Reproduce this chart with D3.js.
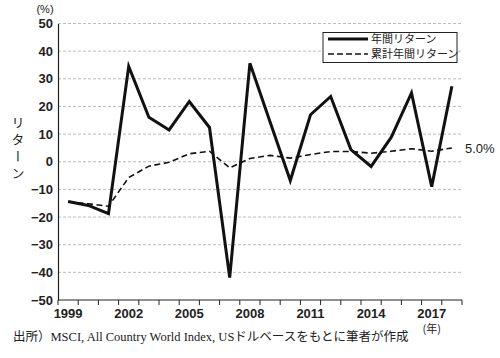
<!DOCTYPE html>
<html><head><meta charset="utf-8">
<script src="https://cdn.jsdelivr.net/npm/d3@7"></script>
<style>
html,body{margin:0;padding:0;background:#fff;}
svg{display:block;}
</style></head>
<body>
<svg id="chart" width="500" height="358"></svg>
<script>
const years = [1999,2000,2001,2002,2003,2004,2005,2006,2007,2008,2009,2010,2011,2012,2013,2014,2015,2016,2017,2018];
const annualReturn = [-14.4,-15.8,-18.8,34.5,16.1,11.5,21.8,12.4,-41.9,35.6,14.4,-6.8,17.0,23.6,4.4,-1.7,8.9,24.9,-9.0,27.3];
const cumulativeReturn = [-14.5,-15.2,-16.1,-5.7,-1.6,-0.2,2.9,3.8,-2.2,1.2,2.3,1.3,2.6,3.7,3.7,3.1,3.8,4.7,3.8,5.0];
const yTicks = [50,40,30,20,10,0,-10,-20,-30,-40,-50];
const xLabelYears = [1999,2002,2005,2008,2011,2014,2017];
const seriesNames = ["年間リターン","累計年間リターン"];
const endLabel = "5.0%";

const svg = d3.select("#chart");
const L = 58, R = 462, T = 23.5, B = 300;
const x = d3.scaleBand().domain(years).range([L, R]).paddingInner(0).paddingOuter(0);
const y = d3.scaleLinear().domain([-50, 50]).range([B, T]);
const sans = "'Liberation Sans', Arial, 'Noto Sans CJK JP', sans-serif";

// gridlines
svg.append("g").selectAll("line").data(yTicks.filter(d => d > -50)).join("line")
  .attr("x1", L).attr("x2", R).attr("y1", d => y(d)).attr("y2", d => y(d))
  .attr("stroke", "#aaa").attr("stroke-width", 0.8).attr("stroke-dasharray", "3,2");

// y axis
const yAxis = svg.append("g").attr("transform", `translate(${L},0)`)
  .call(d3.axisLeft(y).tickValues(yTicks).tickSize(0).tickPadding(5).tickFormat(d => d < 0 ? "\u2212" + Math.abs(d) : d));
yAxis.select(".domain").attr("stroke", "#222").attr("stroke-width", 1.2);
yAxis.selectAll("text").attr("font-family", sans).attr("font-size", 13).attr("fill", "#222").attr("font-weight", "bold");

// x axis
const tickPositions = years.map(d => x(d)).concat([R]);
const xg = svg.append("g");
xg.append("line").attr("x1", L).attr("x2", R).attr("y1", B).attr("y2", B).attr("stroke", "#222").attr("stroke-width", 1.2);
xg.selectAll("line.t").data(tickPositions).join("line").attr("class", "t")
  .attr("x1", d => d).attr("x2", d => d).attr("y1", B).attr("y2", B + 5)
  .attr("stroke", "#222").attr("stroke-width", 1);
xg.selectAll("text").data(xLabelYears).join("text")
  .attr("x", d => x(d) + x.bandwidth() / 2).attr("y", B + 18)
  .attr("text-anchor", "middle").attr("font-family", sans).attr("font-size", 13).attr("font-weight", "bold").attr("fill", "#222")
  .text(d => d);
svg.append("text").attr("x", x(2017) + x.bandwidth() / 2).attr("y", B + 33).attr("text-anchor", "middle")
  .attr("font-family", "'Noto Sans CJK JP', sans-serif").attr("font-size", 11).attr("fill", "#222").text("(年)");

// units
svg.append("text").attr("x", 45).attr("y", 13).attr("text-anchor", "middle")
  .attr("font-family", sans).attr("font-size", 11).attr("fill", "#222").text("(%)");
svg.append("text").attr("x", 18).attr("y", 116)
  .attr("font-family", "'Noto Sans CJK JP', sans-serif").attr("font-size", 13).attr("fill", "#222")
  .attr("writing-mode", "vertical-rl").attr("letter-spacing", 4).text("リターン");

// lines
const cx = d => x(d) + x.bandwidth() / 2;
const lineGen = d3.line().x((d, i) => cx(years[i])).y(d => y(d));
svg.append("path").datum(cumulativeReturn).attr("d", lineGen).attr("fill", "none")
  .attr("stroke", "#111").attr("stroke-width", 1.6).attr("stroke-dasharray", "6,3.5");
svg.append("path").datum(annualReturn).attr("d", lineGen).attr("fill", "none")
  .attr("stroke", "#111").attr("stroke-width", 3).attr("stroke-linejoin", "miter");

svg.append("text").attr("x", 465).attr("y", 153).attr("font-family", sans).attr("font-size", 13).attr("fill", "#222").text(endLabel);

// legend
const lg = svg.append("g");
lg.append("rect").attr("x", 323).attr("y", 32.5).attr("width", 134).attr("height", 30)
  .attr("fill", "#fff").attr("stroke", "#222").attr("stroke-width", 1);
[0, 1].forEach(i => {
  const yy = 39 + i * 15;
  lg.append("line").attr("x1", 328).attr("x2", 368).attr("y1", yy).attr("y2", yy)
    .attr("stroke", "#111").attr("stroke-width", i === 0 ? 3 : 1.6).attr("stroke-dasharray", i === 0 ? null : "6,3");
  lg.append("text").attr("x", 371).attr("y", yy + 4).attr("font-family", "'Noto Sans CJK JP', sans-serif")
    .attr("font-size", 11).attr("fill", "#222").text(seriesNames[i]);
});

// source
svg.append("text").attr("x", 13).attr("y", 341).attr("font-family", "'Liberation Serif', 'Noto Sans CJK JP', serif")
  .attr("font-size", 12.5).attr("fill", "#222").text("出所）MSCI, All Country World Index, USドルベースをもとに筆者が作成");
</script>
</body></html>
